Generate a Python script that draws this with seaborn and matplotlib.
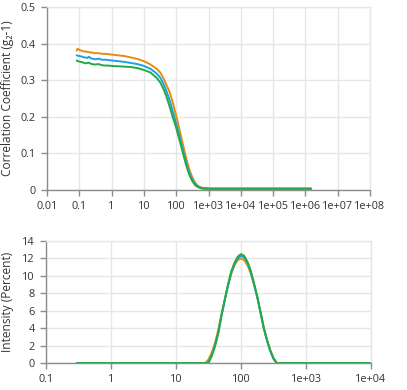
import numpy as np
import pandas as pd
import matplotlib
matplotlib.use("Agg")
import matplotlib.pyplot as plt
import seaborn as sns

# correlogramme (tau en microsecondes)
tau = [0.083, 0.089, 0.1, 0.112, 0.126, 0.141, 0.158, 0.178, 0.2, 0.224,
       0.25, 0.28, 0.32, 0.4, 0.5, 0.63, 0.8, 1, 1.6, 2.5,
       4, 6.3, 10, 16, 25, 32, 40, 50, 63, 79,
       100, 126, 158, 200, 251, 316, 398, 500, 630, 1000,
       1600, 1e4, 1e5, 1e6, 1.5e6]
g_orange = [0.381, 0.386, 0.383, 0.381, 0.380, 0.378, 0.379, 0.377, 0.377, 0.375,
            0.376, 0.374, 0.374, 0.374, 0.372, 0.372, 0.371, 0.370, 0.368, 0.366,
            0.362, 0.358, 0.352, 0.343, 0.331, 0.321, 0.306, 0.287, 0.267, 0.238,
            0.203, 0.166, 0.128, 0.090, 0.058, 0.034, 0.018, 0.010, 0.006, 0.004,
            0.004, 0.004, 0.004, 0.004, 0.004]
g_blue = [0.368, 0.367, 0.366, 0.365, 0.364, 0.362, 0.362, 0.361, 0.364, 0.360,
          0.359, 0.358, 0.357, 0.359, 0.356, 0.356, 0.355, 0.354, 0.352, 0.350,
          0.347, 0.344, 0.339, 0.331, 0.318, 0.307, 0.291, 0.270, 0.245, 0.214,
          0.181, 0.147, 0.112, 0.077, 0.048, 0.028, 0.014, 0.008, 0.005, 0.004,
          0.004, 0.004, 0.004, 0.004, 0.004]
g_green = [0.354, 0.352, 0.351, 0.350, 0.349, 0.347, 0.346, 0.347, 0.348, 0.345,
           0.344, 0.343, 0.343, 0.344, 0.341, 0.340, 0.340, 0.339, 0.338, 0.337,
           0.336, 0.333, 0.328, 0.321, 0.306, 0.294, 0.277, 0.255, 0.227, 0.198,
           0.170, 0.137, 0.104, 0.070, 0.043, 0.024, 0.012, 0.007, 0.004, 0.003,
           0.003, 0.003, 0.003, 0.003, 0.003]

# distribution en intensite (taille en nm)
taille = [0.3, 10, 25, 28.2, 31.6, 35.5, 39.8, 44.7, 50.1, 56.2,
          63.1, 70.8, 79.4, 89.1, 100, 112, 126, 141, 158, 178,
          200, 224, 251, 282, 316, 355, 400, 1000, 10000]
i_orange = [0, 0, 0, 0, 0.4, 1.2, 2.3, 3.8, 5.6, 7.3,
            8.9, 10.2, 11.2, 11.8, 12.0, 11.8, 11.2, 10.3, 9.0, 7.5,
            5.8, 4.1, 2.7, 1.5, 0.6, 0, 0, 0, 0]
i_blue = [0, 0, 0, 0, 0.1, 0.9, 2.0, 3.5, 5.5, 7.2,
          8.9, 10.4, 11.4, 12.0, 12.3, 12.1, 11.5, 10.5, 9.1, 7.6,
          5.8, 4.0, 2.6, 1.4, 0.5, 0, 0, 0, 0]
i_green = [0, 0, 0, 0, 0, 0.8, 1.9, 3.4, 5.4, 7.2,
           9.0, 10.5, 11.5, 12.2, 12.5, 12.3, 11.6, 10.6, 9.2, 7.6,
           5.8, 4.0, 2.6, 1.4, 0.5, 0, 0, 0, 0]

mesures = ['m1', 'm2', 'm3']
cores = {'m1': '#E98B0F', 'm2': '#1AA0E6', 'm3': '#22AA45'}

xt_top = [0.01, 0.1, 1, 10, 100, 1e3, 1e4, 1e5, 1e6, 1e7, 1e8]
xl_top = ['0.01', '0.1', '1', '10', '100', '1e+03', '1e+04', '1e+05', '1e+06', '1e+07', '1e+08']
yt_top = [0, 0.1, 0.2, 0.3, 0.4, 0.5]
yl_top = ['0', '0.1', '0.2', '0.3', '0.4', '0.5']
xt_bot = [0.1, 1, 10, 100, 1e3, 1e4]
xl_bot = ['0.1', '1', '10', '100', '1e+03', '1e+04']
yt_bot = [0, 2, 4, 6, 8, 10, 12, 14]

df_g = pd.DataFrame({
    'tau': tau * 3,
    'g': g_orange + g_blue + g_green,
    'serie': ['m1'] * len(tau) + ['m2'] * len(tau) + ['m3'] * len(tau),
})
df_i = pd.DataFrame({
    'd': taille * 3,
    'i': i_orange + i_blue + i_green,
    'serie': ['m1'] * len(taille) + ['m2'] * len(taille) + ['m3'] * len(taille),
})

sns.set_style("whitegrid")
plt.rcParams['font.family'] = ['Open Sans', 'DejaVu Sans']

fig = plt.figure(figsize=(4.07, 3.90), dpi=100)
ax1 = fig.add_axes([47 / 407, 200 / 390, 323 / 407, 183 / 390])
ax2 = fig.add_axes([46 / 407, 27 / 390, 325 / 407, 122 / 390])

sns.lineplot(data=df_g, x='tau', y='g', hue='serie', hue_order=mesures,
             palette=cores, linewidth=1.4, legend=False, ax=ax1, sort=False)
sns.lineplot(data=df_i, x='d', y='i', hue='serie', hue_order=mesures,
             palette=cores, linewidth=1.4, legend=False, ax=ax2, sort=False)

for ax, xt, xl, yt, yl, xlim, ylim in [
        (ax1, xt_top, xl_top, yt_top, yl_top, (0.01, 1e8), (0, 0.5)),
        (ax2, xt_bot, xl_bot, yt_bot, [str(v) for v in yt_bot], (0.1, 1e4), (0, 14))]:
    ax.set_xscale('log')
    ax.set_xlim(*xlim)
    ax.set_ylim(*ylim)
    ax.set_xticks(xt)
    ax.set_xticklabels(xl)
    ax.set_yticks(yt)
    ax.set_yticklabels(yl)
    ax.minorticks_off()
    ax.grid(True, color='#E6E6E6', linewidth=1)
    ax.set_facecolor('white')
    for s in ['top', 'right']:
        ax.spines[s].set_color('#E6E6E6')
        ax.spines[s].set_linewidth(1)
    for s in ['left', 'bottom']:
        ax.spines[s].set_color('#8C8C8C')
        ax.spines[s].set_linewidth(1)
    ax.tick_params(axis='both', which='major', length=4, width=1, color='#8C8C8C',
                   labelsize=7.8, labelcolor='#333333', pad=4, left=True, bottom=True)
    ax.set_xlabel('')

ax1.set_ylabel('Correlation Coefficient (g\u2082-1)', fontsize=8.6, color='#333333', labelpad=5)
ax2.set_ylabel('Intensity (Percent)', fontsize=8.6, color='#333333', labelpad=6)

plt.savefig('out.png', dpi=100)
